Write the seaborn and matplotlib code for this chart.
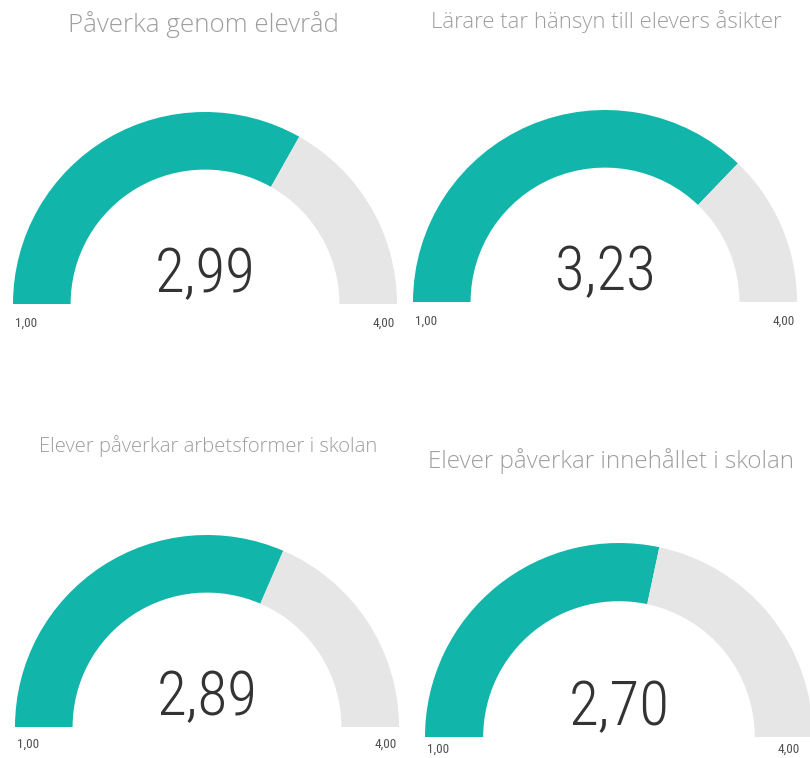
import matplotlib
matplotlib.use("Agg")
import matplotlib.pyplot as plt
import seaborn as sns
from matplotlib import font_manager as fm

# ---- data ----
titles = [
    "Påverka genom elevråd",
    "Lärare tar hänsyn till elevers åsikter",
    "Elever påverkar arbetsformer i skolan",
    "Elever påverkar innehållet i skolan",
]
values = [2.99, 3.23, 2.89, 2.70]
min_vals = [1.00, 1.00, 1.00, 1.00]
max_vals = [4.00, 4.00, 4.00, 4.00]

# ---- layout (pixels) ----
W, H = 810, 758
gauge_geom = [(205, 304, 192), (605, 302, 192), (207, 727, 192), (619, 737, 194)]  # cx, baseline y, R
title_pos = [(204, 25, 272), (606, 22, 352), (208, 446, 340), (611, 461, 368)]      # cx, cy, width
label_dy = [19, 19, 17, 12]
label_xr = [0.99, 0.99, 0.99, 0.93]

TEAL = "#12B5A9"
GREY = "#E6E6E6"

sns.set_theme(style="white")
names = {f.name for f in fm.fontManager.ttflist}
def pick(*c):
    return next((x for x in c if x in names), "DejaVu Sans")
title_font = pick("Open Sans", "Lato", "Noto Sans")
value_font = pick("Roboto Condensed", "Roboto", "Lato")
tick_font = pick("Roboto Condensed", "Liberation Sans Narrow", "Roboto")
plt.rcParams["font.family"] = [title_font, "DejaVu Sans"]

fig = plt.figure(figsize=(W / 100, H / 100), dpi=100)
fig.patch.set_facecolor("white")

def fmt(v):
    return f"{v:.2f}".replace(".", ",")

for i, (t, v, lo, hi) in enumerate(zip(titles, values, min_vals, max_vals)):
    cx, by, R = gauge_geom[i]
    ax = fig.add_axes([(cx - R) / W, (H - by) / H, 2 * R / W, R / H])
    ax.pie([v - lo, hi - v, hi - lo], colors=[TEAL, GREY, "none"],
           startangle=180, counterclock=False, radius=1.0,
           wedgeprops=dict(width=0.30, edgecolor="none", linewidth=0))
    ax.set_aspect("auto")
    ax.set_xlim(-1, 1)
    ax.set_ylim(0, 1)
    ax.axis("off")
    ax.text(0, 0.063, fmt(v), ha="center", va="baseline", fontsize=44,
            fontfamily=value_font, fontweight="light", color="#333333")
    dy = label_dy[i] / R
    ax.text(-0.99, -dy, fmt(lo), ha="left", va="center", fontsize=9.5,
            fontfamily=tick_font, color="#505050", clip_on=False)
    ax.text(label_xr[i], -dy, fmt(hi), ha="right", va="center", fontsize=9.5,
            fontfamily=tick_font, color="#505050", clip_on=False)

renderer = fig.canvas.get_renderer()
for i, t in enumerate(titles):
    x, y, w = title_pos[i]
    txt = fig.text(x / W, 1 - y / H, t, ha="center", va="center", fontsize=16,
                   fontweight="light", color="#9E9E9E")
    bb = txt.get_window_extent(renderer)
    txt.set_fontsize(16 * w / bb.width)

fig.savefig("out.png", dpi=100, facecolor="white")
